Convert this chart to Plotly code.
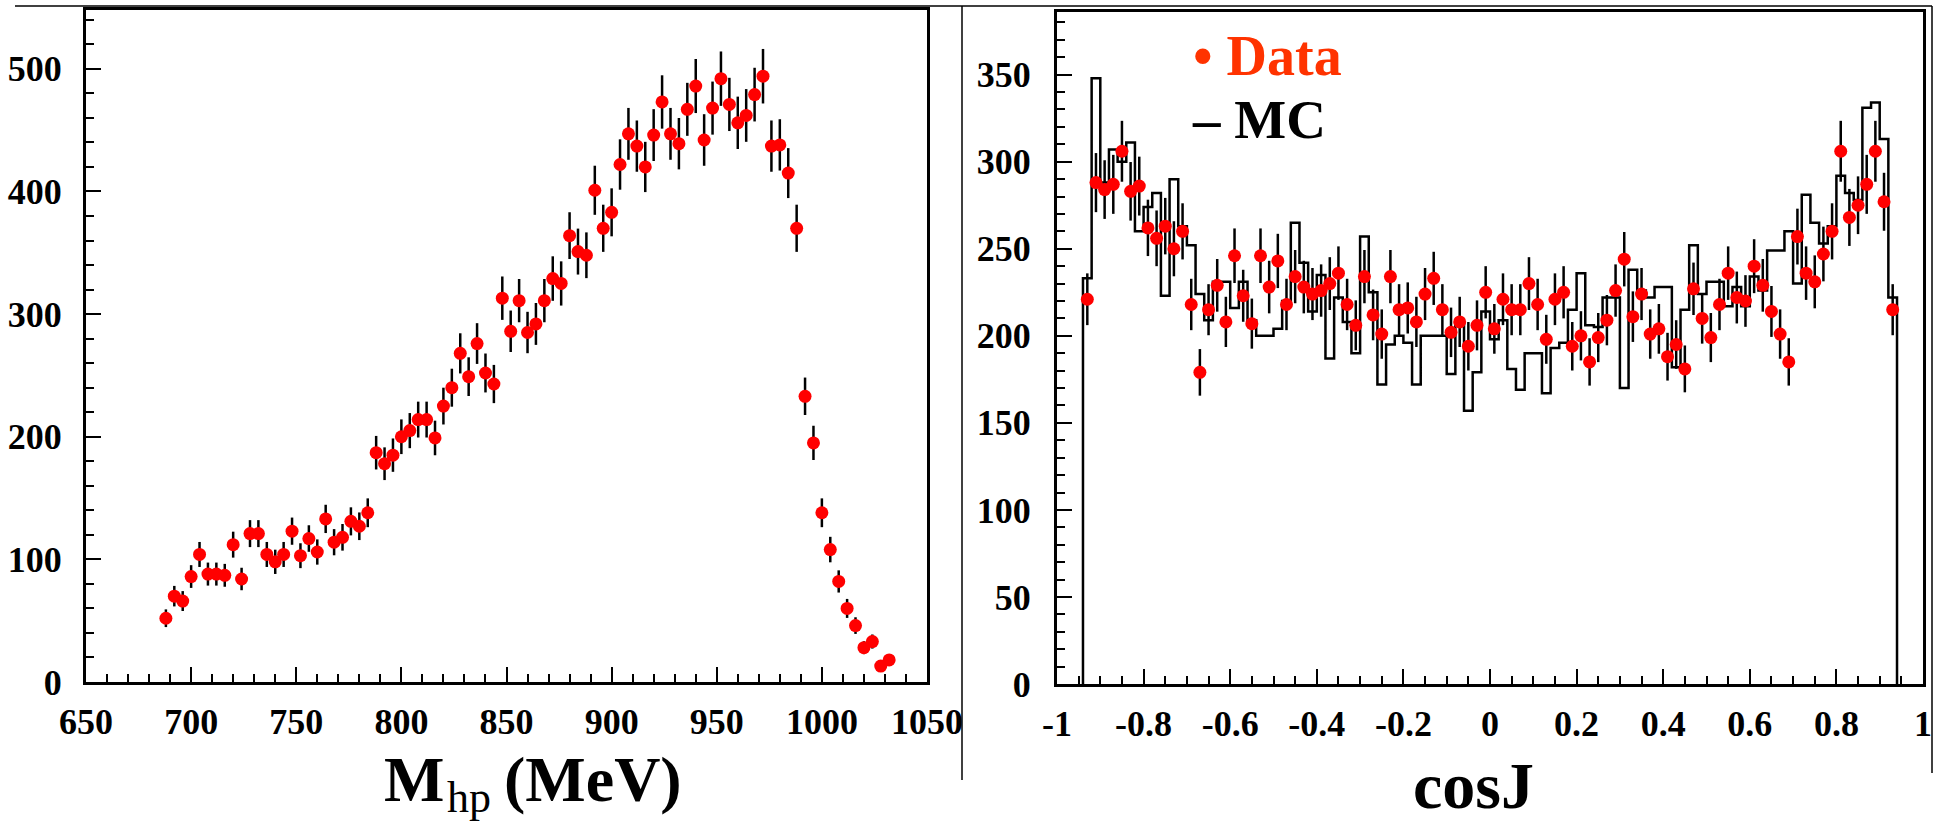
import numpy as np
import plotly.graph_objects as go

W, H = 1937, 823

# ---------------- Left panel: M_hp spectrum (4 MeV bins) ----------------
mass_bin_first = 688
mass_bin_width = 4
mass_counts = [52, 70, 66, 86, 104, 88, 88, 87, 112, 84,
               121, 121, 104, 98, 104, 123, 103, 117, 106, 133,
               114, 118, 131, 127, 138, 187, 178, 185, 200, 205,
               214, 214, 199, 225, 240, 268, 249, 276, 252, 243,
               313, 286, 311, 285, 292, 311, 329, 325, 364, 351,
               348, 401, 370, 383, 422, 447, 437, 420, 446, 473,
               447, 439, 467, 486, 442, 468, 492, 471, 456, 462,
               479, 494, 437, 438, 415, 370, 233, 195, 138, 108,
               82, 60, 46, 28, 33, 13, 18]
mass_centers = mass_bin_first + mass_bin_width * np.arange(len(mass_counts))
mass_ticks = [650, 700, 750, 800, 850, 900, 950, 1000, 1050]

# ---------------- Right panel: cosJ (0.02 bins from -0.94 to 0.94) ----------------
cos_bin_first_edge = -0.94
cos_bin_width = 0.02
cos_data = [221, 288, 284, 287, 306, 283, 286, 262, 256, 263,
            250, 260, 218, 179, 215, 229, 208, 246, 223, 207,
            246, 228, 243, 218, 234, 228, 224, 226, 230, 236,
            218, 206, 234, 212, 201, 234, 215, 216, 208, 224,
            233, 215, 202, 208, 194, 206, 225, 204, 221, 215,
            215, 230, 218, 198, 221, 225, 194, 200, 185, 199,
            209, 226, 244, 211, 224, 201, 204, 188, 195, 181,
            227, 210, 199, 218, 236, 222, 220, 240, 229, 214,
            201, 185, 257, 236, 231, 247, 260, 306, 268, 275,
            287, 306, 277, 215]
cos_mc = [233, 348, 288, 307, 300, 311, 260, 274, 282, 223,
          290, 263, 252, 224, 209, 231, 231, 216, 231, 209,
          200, 200, 204, 220, 265, 242, 214, 235, 187, 222,
          208, 190, 257, 225, 172, 195, 200, 196, 172, 200,
          200, 200, 178, 208, 157, 179, 214, 198, 209, 181,
          169, 190, 190, 167, 193, 196, 215, 236, 206, 205,
          222, 222, 170, 238, 226, 222, 228, 228, 182, 215,
          252, 224, 231, 231, 217, 228, 217, 234, 226, 249,
          249, 260, 230, 281, 265, 253, 263, 292, 282, 278,
          331, 334, 313, 222]
assert len(cos_data) == len(cos_mc) == 94
cos_edges = cos_bin_first_edge + cos_bin_width * np.arange(len(cos_mc) + 1)
cos_centers = cos_edges[:-1] + cos_bin_width / 2
cos_ticks = [-1, -0.8, -0.6, -0.4, -0.2, 0, 0.2, 0.4, 0.6, 0.8, 1]
cos_ticktext = ["-1", "-0.8", "-0.6", "-0.4", "-0.2", "0", "0.2", "0.4", "0.6", "0.8", "1"]

# step outline for MC histogram
mc_x = [cos_edges[0]] + list(cos_edges[:-1]) + [cos_edges[-1]]
mc_y = [0] + list(cos_mc) + [0]


def pxx(x):
    return x / W


def pyy(y):
    return 1 - y / H


FONT = "Liberation Serif"
RED = "#ff0000"

fig = go.Figure()

fig.add_trace(go.Scatter(
    x=mass_centers, y=mass_counts, mode="markers",
    marker=dict(color=RED, size=13, line=dict(width=0)),
    error_y=dict(type="data", array=np.sqrt(mass_counts), color="black",
                 thickness=2.5, width=0),
    xaxis="x", yaxis="y", showlegend=False, cliponaxis=False))

fig.add_trace(go.Scatter(
    x=mc_x, y=mc_y, mode="lines", line=dict(color="black", width=2.5, shape="hv"),
    xaxis="x2", yaxis="y2", showlegend=False))

fig.add_trace(go.Scatter(
    x=cos_centers, y=cos_data, mode="markers",
    marker=dict(color=RED, size=13, line=dict(width=0)),
    error_y=dict(type="data", array=np.sqrt(cos_data), color="black",
                 thickness=2.5, width=0),
    xaxis="x2", yaxis="y2", showlegend=False))

tickfont = dict(family=FONT, size=36, color="black", weight="bold")
common = dict(showgrid=False, zeroline=False, showline=True, mirror=True,
              linecolor="black", linewidth=3, ticks="inside", ticklen=15,
              tickwidth=2, tickcolor="black", tickfont=tickfont,
              automargin=False)

fig.update_layout(
    template="none",
    width=W, height=H, autosize=False,
    margin=dict(l=0, r=0, t=0, b=0, pad=0),
    paper_bgcolor="white", plot_bgcolor="white",
    xaxis=dict(domain=[pxx(86), pxx(927)], range=[650, 1050], anchor="y",
               tickvals=mass_ticks, ticklabelstandoff=6,
               minor=dict(dtick=10, tick0=650, ticks="inside", ticklen=8,
                          tickwidth=1.5, tickcolor="black"),
               **common),
    yaxis=dict(domain=[pyy(682), pyy(10)], range=[0, 548], anchor="x",
               tickvals=[0, 100, 200, 300, 400, 500], ticklabelstandoff=14,
               minor=dict(dtick=20, tick0=0, ticks="inside", ticklen=8,
                          tickwidth=1.5, tickcolor="black"),
               **common),
    xaxis2=dict(domain=[pxx(1057), pxx(1923)], range=[-1, 1], anchor="y2",
                tickvals=cos_ticks, ticktext=cos_ticktext, ticklabelstandoff=6,
                minor=dict(dtick=0.05, tick0=-1, ticks="inside", ticklen=8,
                           tickwidth=1.5, tickcolor="black"),
                **common),
    yaxis2=dict(domain=[pyy(684), pyy(12)], range=[0, 386], anchor="x2",
                tickvals=[0, 50, 100, 150, 200, 250, 300, 350], ticklabelstandoff=16,
                minor=dict(dtick=10, tick0=0, ticks="inside", ticklen=8,
                           tickwidth=1.5, tickcolor="black"),
                **common),
)

annotations = [
    # left axis title: "M" + subscript "hp" + "(MeV)"
    dict(text="<b>M</b>", x=pxx(383), y=pyy(779),
         xanchor="left", yanchor="middle",
         font=dict(family=FONT, size=64, color="black")),
    dict(text="hp", x=pxx(446), y=0,
         xanchor="left", yanchor="bottom",
         font=dict(family=FONT, size=44, color="black")),
    dict(text="<b>(MeV)</b>", x=pxx(503), y=pyy(779),
         xanchor="left", yanchor="middle",
         font=dict(family=FONT, size=64, color="black")),
    dict(text="<b>cosJ</b>", x=pxx(1473), y=0,
         xanchor="center", yanchor="bottom",
         font=dict(family=FONT, size=66, color="black")),
    dict(text="<b>• Data</b>", x=pxx(1192), y=pyy(56),
         xanchor="left", yanchor="middle",
         font=dict(family=FONT, size=56, color="#ff3300")),
    dict(text="<b>– MC</b>", x=pxx(1191), y=pyy(120),
         xanchor="left", yanchor="middle",
         font=dict(family=FONT, size=55, color="black")),
]
for a in annotations:
    a.update(xref="paper", yref="paper", showarrow=False, borderpad=0)
fig.update_layout(annotations=annotations)

shapes = [
    dict(type="line", x0=pxx(15), x1=pxx(1932), y0=pyy(6), y1=pyy(6)),
    dict(type="line", x0=pxx(962), x1=pxx(962), y0=pyy(6), y1=pyy(780)),
    dict(type="line", x0=pxx(1932), x1=pxx(1932), y0=pyy(6), y1=pyy(773)),
]
for s in shapes:
    s.update(xref="paper", yref="paper", line=dict(color="black", width=1.5))
fig.update_layout(shapes=shapes)

fig.write_html("out.html")
